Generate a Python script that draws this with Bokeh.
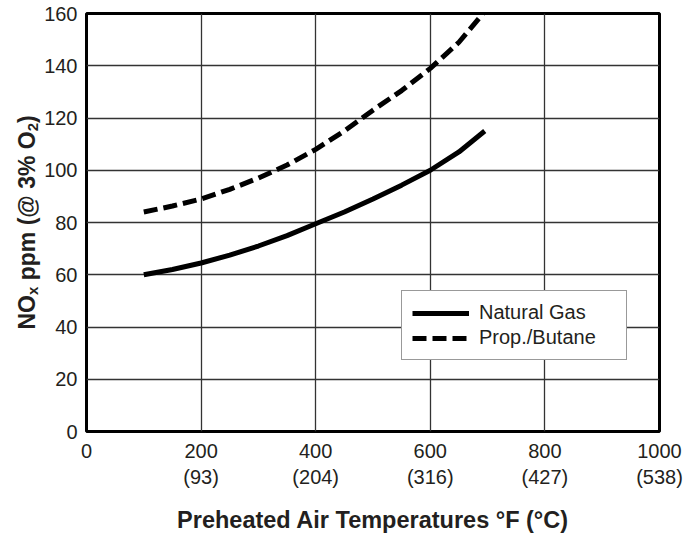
import math
from bokeh.plotting import figure
from bokeh.layouts import row
from bokeh.models import Range1d, FixedTicker, Legend, LegendItem, Label
from bokeh.embed import file_html
from bokeh.resources import INLINE

# ---- data ----
x_ng = [100, 150, 200, 250, 300, 350, 400, 450, 500, 550, 600, 650, 695]
y_ng = [60, 62, 64.5, 67.5, 71, 75, 79.5, 84, 89, 94.3, 100, 107, 115]

x_pb = [100, 150, 200, 250, 300, 350, 400, 450, 500, 550, 600, 650, 692]
y_pb = [84, 86.3, 89, 92.7, 97, 102, 108, 115, 123, 130.5, 139, 149, 160]

x_ticks = [0, 200, 400, 600, 800, 1000]
x_tick_f = ["0", "200", "400", "600", "800", "1000"]
x_tick_c = ["", "(93)", "(204)", "(316)", "(427)", "(538)"]
y_ticks = [0, 20, 40, 60, 80, 100, 120, 140, 160]

series_names = ["Natural Gas", "Prop./Butane"]
x_title = "Preheated Air Temperatures °F (°C)"

FONT = "Liberation Sans"
TXT = "#231f20"
LEFT_W = 41

# ---- main chart ----
p = figure(width=683 - LEFT_W, height=535, output_backend="svg", toolbar_location=None,
           x_range=Range1d(0, 1000), y_range=Range1d(0, 160),
           min_border_left=86 - LEFT_W, min_border_right=24, min_border_top=13, min_border_bottom=103)
p.background_fill_color = "white"
p.border_fill_color = "white"
p.outline_line_color = "black"
p.outline_line_width = 3

p.xgrid.ticker = FixedTicker(ticks=x_ticks)
p.ygrid.ticker = FixedTicker(ticks=y_ticks)
for g in (p.xgrid, p.ygrid):
    g.grid_line_color = "#333333"
    g.grid_line_width = 1.3

p.xaxis.ticker = FixedTicker(ticks=x_ticks)
p.xaxis.major_label_overrides = {t: (f + ("\n" + c if c else "")) for t, f, c in zip(x_ticks, x_tick_f, x_tick_c)}
p.yaxis.ticker = FixedTicker(ticks=y_ticks)
for ax in (p.xaxis, p.yaxis):
    ax.axis_line_color = None
    ax.major_tick_line_color = None
    ax.minor_tick_line_color = None
    ax.major_tick_out = 0
    ax.major_tick_in = 0
    ax.minor_tick_out = 0
    ax.minor_tick_in = 0
    ax.major_label_text_font = FONT
    ax.major_label_text_font_size = "20px"
    ax.major_label_text_color = TXT
p.xaxis.major_label_standoff = 8
p.yaxis.major_label_standoff = 9

p.xaxis.axis_label = x_title
p.xaxis.axis_label_text_font = FONT
p.xaxis.axis_label_text_font_style = "bold"
p.xaxis.axis_label_text_font_size = "23.5px"
p.xaxis.axis_label_text_color = TXT
p.xaxis.axis_label_standoff = 16

r_ng = p.line(x_ng, y_ng, line_color="black", line_width=5)
r_pb = p.line(x_pb, y_pb, line_color="black", line_width=5, line_dash="14 6")

legend = Legend(items=[LegendItem(label=series_names[0], renderers=[r_ng]),
                       LegendItem(label=series_names[1], renderers=[r_pb])],
                location=(315, 71))
legend.label_text_font = FONT
legend.label_text_font_size = "20px"
legend.label_text_color = TXT
legend.glyph_width = 57
legend.glyph_height = 22
legend.label_height = 22
legend.label_width = 137
legend.label_standoff = 10
legend.spacing = 2
legend.padding = 10
legend.margin = 0
legend.border_line_color = "#333333"
legend.border_line_width = 1.5
legend.background_fill_alpha = 1
p.add_layout(legend, "center")

# ---- y-axis title strip (rotated text with subscripts) ----
t = figure(width=LEFT_W, height=535, output_backend="svg", toolbar_location=None,
           x_range=Range1d(0, 1), y_range=Range1d(0, 1),
           x_axis_location=None, y_axis_location=None,
           min_border_left=0, min_border_right=0, min_border_top=0, min_border_bottom=0)
t.outline_line_color = None
t.xgrid.visible = False
t.ygrid.visible = False
t.background_fill_color = "white"
t.border_fill_color = "white"

F, S = 23, 15
W = {"N": 722, "O": 778, " ": 278, "p": 611, "m": 889, "(": 333, "@": 975,
     "3": 556, "%": 889, ")": 333, "x": 556, "2": 556}
def tw(s, size):
    return sum(W[c] for c in s) * size / 1000.0

# (text, size, baseline shift, trailing gap)
pieces = [("NO", F, 0, ""), ("x", S, 6, " "), ("ppm (@ 3% O", F, 0, ""), ("2", S, 6, ""), (")", F, 0, "")]
base_x = 26
ypos = 102   # frame is aligned with the main chart's frame (bottom at y=432 px)
for txt, size, dx, after in pieces:
    t.add_layout(Label(x=base_x + dx, y=ypos, x_units="screen", y_units="screen",
                       text=txt, angle=math.pi / 2, text_align="left",
                       text_baseline="alphabetic", text_font=FONT, text_font_style="bold",
                       text_font_size=f"{size}px", text_color=TXT))
    ypos += tw(txt, size) + tw(after, F)

layout = row(t, p, spacing=0)
open("out.html", "w").write(file_html(layout, INLINE))
